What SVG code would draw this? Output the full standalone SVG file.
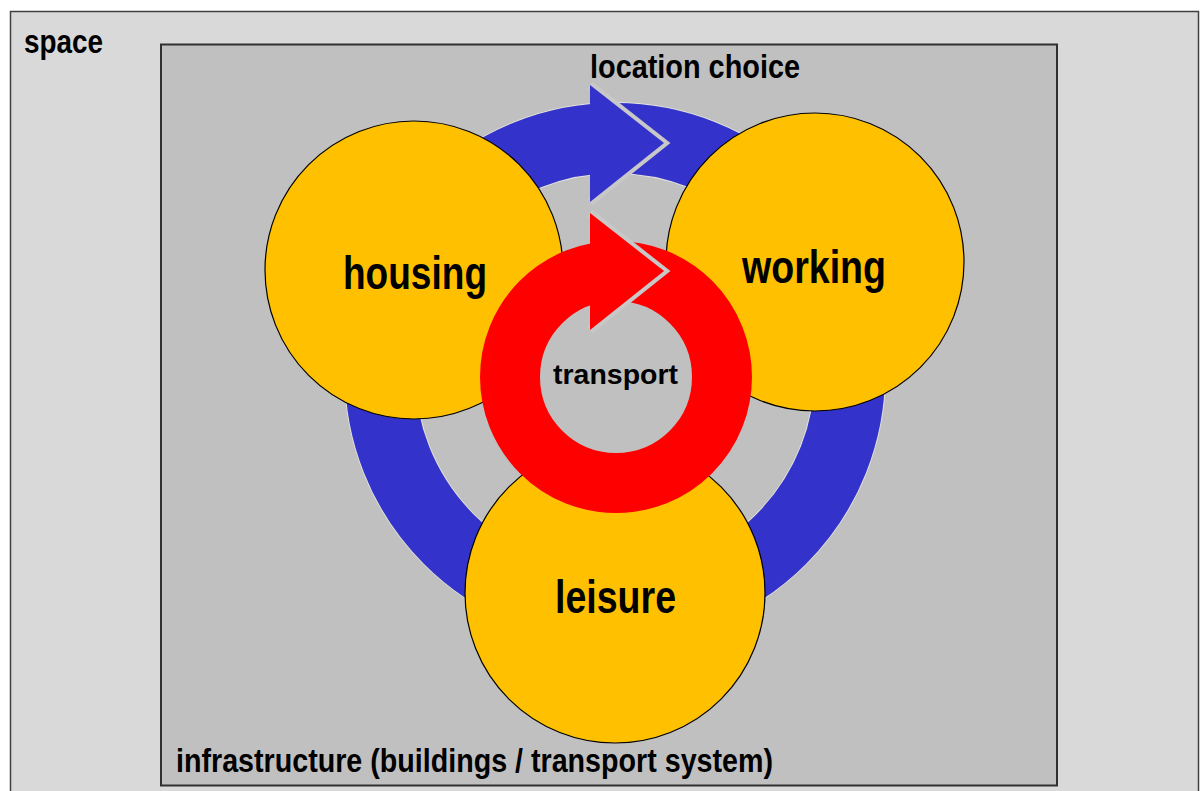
<svg xmlns="http://www.w3.org/2000/svg" width="1200" height="791" viewBox="0 0 1200 791">
<style>
.t{font-family:"Liberation Sans Narrow","Liberation Sans",Arial,sans-serif;font-weight:bold;fill:#000}
.node{fill:#ffc000;stroke:#000;stroke-width:1.2}
.gap{fill:none;stroke:#c8c8c8;stroke-width:8;stroke-linejoin:miter;stroke-miterlimit:10}
</style>
<rect x="10.5" y="11.5" width="1188" height="800" fill="#d9d9d9" stroke="#404040" stroke-width="1.5"/>
<text class="t" x="24" y="53" font-size="34" textLength="79" lengthAdjust="spacingAndGlyphs">space</text>
<rect x="161" y="44.5" width="896" height="741" fill="#c0c0c0" stroke="#303030" stroke-width="2"/>
<text class="t" x="590" y="78" font-size="34" textLength="210" lengthAdjust="spacingAndGlyphs">location choice</text>
<g id="connectors">
  <g id="location-choice-cycle">
    <circle cx="615" cy="373" r="270.5" fill="none" stroke="#e2e2e2" stroke-width="1"/>
    <circle cx="615" cy="373" r="199.5" fill="none" stroke="#e2e2e2" stroke-width="1"/>
    <circle cx="615" cy="373" r="235" fill="none" stroke="#3333cc" stroke-width="70"/>
    <polyline class="gap" points="590,85 664,143 590,202"/>
    <polygon points="590,85 664,143 590,202" fill="#3333cc"/>
  </g>
</g>
<g id="housing">
  <circle class="node" cx="414" cy="270" r="149"/>
  <text class="t" x="343" y="289" font-size="46" textLength="144" lengthAdjust="spacingAndGlyphs">housing</text>
</g>
<g id="working">
  <circle class="node" cx="815" cy="262" r="149"/>
  <text class="t" x="742" y="283" font-size="46" textLength="144" lengthAdjust="spacingAndGlyphs">working</text>
</g>
<g id="leisure">
  <circle class="node" cx="615" cy="593" r="150"/>
  <text class="t" x="555" y="613" font-size="46" textLength="121" lengthAdjust="spacingAndGlyphs">leisure</text>
</g>
<g id="transport">
  <circle cx="616" cy="377" r="106" fill="#c0c0c0" stroke="#ff0000" stroke-width="60"/>
  <polyline class="gap" points="590,213 664,271 590,330"/>
  <polygon points="590,213 664,271 590,330" fill="#ff0000"/>
  <text class="t" x="553" y="384" font-size="28" textLength="125" lengthAdjust="spacingAndGlyphs">transport</text>
</g>
<text class="t" x="176" y="772" font-size="33" textLength="597" lengthAdjust="spacingAndGlyphs">infrastructure (buildings / transport system)</text>
</svg>
